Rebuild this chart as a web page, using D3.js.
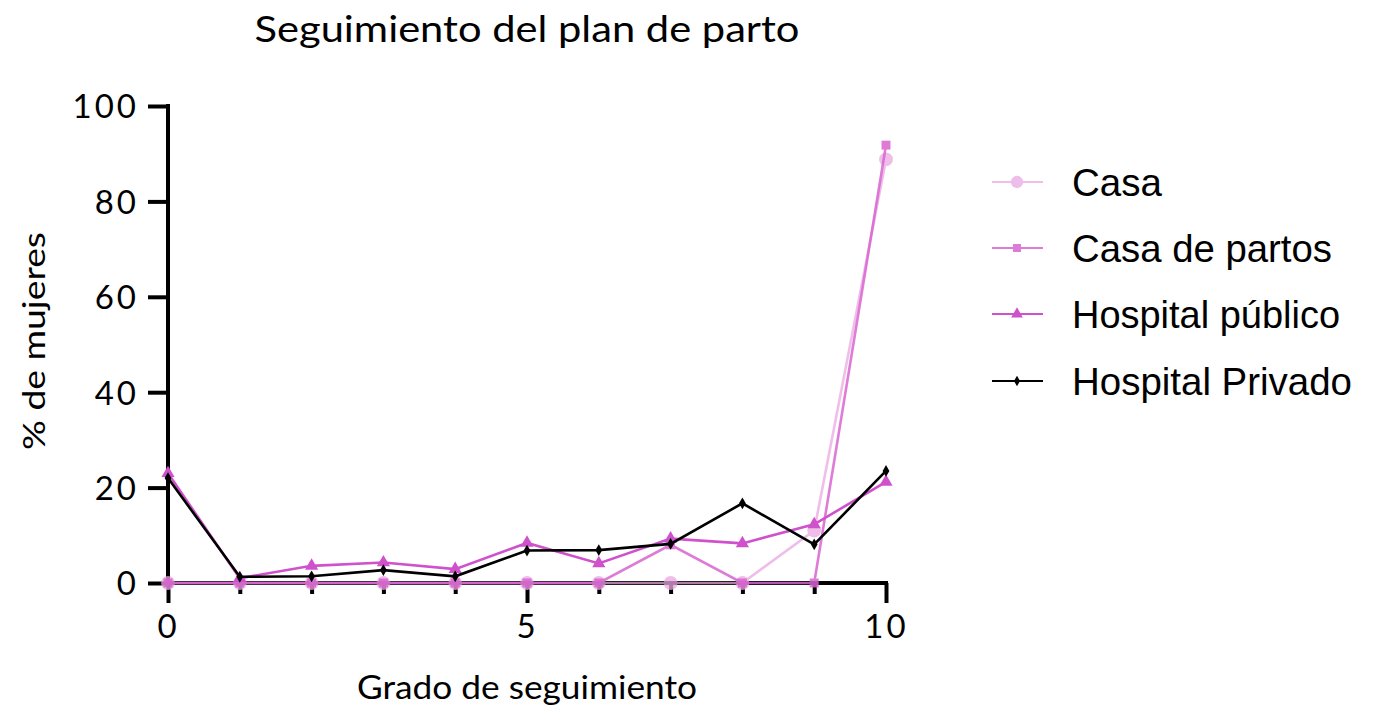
<!DOCTYPE html>
<html><head><meta charset="utf-8">
<script src="https://cdn.jsdelivr.net/npm/d3@7"></script>
<style>body{margin:0;background:#fff}svg{display:block}</style>
</head><body>
<svg id="c" width="1378" height="708"></svg>
<script>
const grados = [0,1,2,3,4,5,6,7,8,9,10];
const casa = [0,0,0,0,0,0,0,0,0,11,88.8];
const casaPartos = [0,0,0,0,0,0,0,8,0,0,91.8];
const hospPublico = [23,1,3.6,4.3,2.9,8.4,4.1,9.3,8.3,12.3,21.2];
const hospPrivado = [22,1.3,1.4,2.7,1.4,6.8,6.9,8.2,16.7,8.1,23.5];
const seriesNames = ["Casa","Casa de partos","Hospital público","Hospital Privado"];
const yTicks = [0,20,40,60,80,100];
const xMajor = [0,5,10];

const series = [
  {name:seriesNames[0], vals:casa, color:"#e9a8e2", op:0.75, sym:d3.symbolCircle, size:150, lw:260},
  {name:seriesNames[1], vals:casaPartos, color:"#d865cf", op:0.85, sym:d3.symbolSquare, size:80, lw:0},
  {name:seriesNames[2], vals:hospPublico, color:"#cf52cc", op:1, sym:d3.symbolTriangle, size:75, lw:0},
  {name:seriesNames[3], vals:hospPrivado, color:"#000000", op:1, sym:d3.symbolDiamond, size:40, lw:0}
];
const legendWidths = [90,260,268,280];

const svg = d3.select("#c");
const x = d3.scaleLinear().domain([0,10]).range([168,886]);
const y = d3.scaleLinear().domain([0,100]).range([583,106]);
const geo = "Lato, 'Open Sans', sans-serif";

// axes
const yAxis = svg.append("g").attr("transform","translate(168,0)")
  .call(d3.axisLeft(y).tickValues(yTicks).tickSize(20).tickPadding(8).tickFormat(d3.format("d")));
yAxis.select(".domain").remove();
yAxis.selectAll(".tick line").attr("stroke","#000").attr("stroke-width",4);
yAxis.selectAll(".tick text").attr("font-family",geo).attr("font-size",33).attr("letter-spacing",3).attr("fill","#000").attr("dy","0.36em").attr("dx",-1);
svg.append("line").attr("x1",168).attr("x2",168).attr("y1",y(100)-2).attr("y2",y(0)).attr("stroke","#000").attr("stroke-width",4);

const xMinor = svg.append("g").attr("transform","translate(0,583)")
  .call(d3.axisBottom(x).tickValues(grados.filter(d=>d%5!==0)).tickSize(11).tickFormat(""));
xMinor.select(".domain").remove();
xMinor.selectAll(".tick line").attr("stroke","#000").attr("stroke-width",4);
const xAxis = svg.append("g").attr("transform","translate(0,583)")
  .call(d3.axisBottom(x).tickValues(xMajor).tickSize(20).tickPadding(12).tickFormat(d3.format("d")));
xAxis.select(".domain").remove();
xAxis.selectAll(".tick line").attr("stroke","#000").attr("stroke-width",4);
xAxis.selectAll(".tick text").attr("font-family",geo).attr("font-size",33).attr("letter-spacing",3).attr("fill","#000");
svg.append("line").attr("x1",166).attr("x2",888).attr("y1",583).attr("y2",583).attr("stroke","#000").attr("stroke-width",4);

// series
const line = d3.line().x((d,i)=>x(grados[i])).y(d=>y(d));
series.forEach(s=>{
  const g = svg.append("g").attr("opacity",s.op);
  g.append("path").datum(s.vals).attr("d",line).attr("fill","none").attr("stroke",s.color).attr("stroke-width",2.6);
  g.selectAll("path.m").data(s.vals).enter().append("path").attr("class","m")
    .attr("d",d3.symbol().type(s.sym).size(s.size))
    .attr("transform",(d,i)=>`translate(${x(grados[i])},${y(d)})`)
    .attr("fill",s.color);
});

// titles
svg.append("text").attr("x",527).attr("y",42).attr("text-anchor","middle")
  .attr("font-family",geo).attr("font-size",37).attr("fill","#000")
  .attr("textLength",545).attr("lengthAdjust","spacingAndGlyphs").text("Seguimiento del plan de parto");
svg.append("text").attr("x",527).attr("y",699).attr("text-anchor","middle")
  .attr("font-family",geo).attr("font-size",33).attr("fill","#000")
  .attr("textLength",340).attr("lengthAdjust","spacingAndGlyphs").text("Grado de seguimiento");
svg.append("text").attr("transform","translate(45,341) rotate(-90)").attr("text-anchor","middle")
  .attr("font-family",geo).attr("font-size",31).attr("fill","#000")
  .attr("textLength",218).attr("lengthAdjust","spacingAndGlyphs").text("% de mujeres");

// legend
const ly = [182,248,314,381];
series.forEach((s,i)=>{
  const g = svg.append("g").attr("opacity",s.op);
  g.append("line").attr("x1",992).attr("x2",1043).attr("y1",ly[i]).attr("y2",ly[i]).attr("stroke",s.color).attr("stroke-width",2);
  g.append("path").attr("d",d3.symbol().type(s.sym).size(s.size*0.8)).attr("transform",`translate(1017,${ly[i]})`).attr("fill",s.color);
  svg.append("text").attr("x",1072).attr("y",ly[i]).attr("dy","0.36em").attr("font-family","'Liberation Sans', Arial, sans-serif")
    .attr("font-size",39).attr("fill","#000")
    .attr("textLength",legendWidths[i]).attr("lengthAdjust","spacingAndGlyphs").text(s.name);
});
</script>
</body></html>
